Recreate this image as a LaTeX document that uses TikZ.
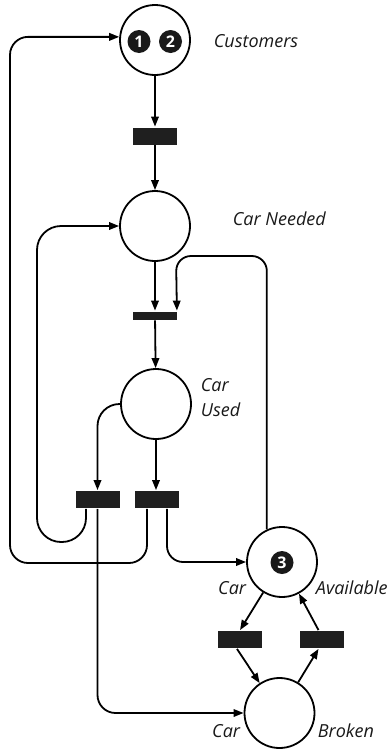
\documentclass[tikz,border=0pt]{standalone}
\usepackage{fontspec}
\setmainfont{Open Sans}
\usetikzlibrary{arrows.meta}
\begin{document}
\begin{tikzpicture}[x=1pt,y=-1pt,
  line width=1.8pt,
  >={Triangle[length=10pt,width=7.5pt]},
  place/.style={circle, draw, minimum size=70pt, inner sep=0pt, line width=1.8pt},
  trans/.style={fill=black!88, minimum width=44pt, minimum height=17pt, inner sep=0pt},
  token/.style={circle, fill=black!90, minimum size=23pt, inner sep=0pt, text=white, font=\bfseries\fontsize{16}{16}\selectfont},
  lbl/.style={font=\itshape\fontsize{18}{20}\selectfont, inner sep=0pt, text=black!90}]
\useasboundingbox (0,0) rectangle (390,750);
% places and transitions
\node[place] (cust) at (155,40) {};
\node[token] (tok1) at (139,41.5) {1};
\node[token] (tok2) at (170.5,41.5) {2};
\node[trans] (t1) at (155,136) {};
\node[place] (need) at (155,226) {};
\node[trans, minimum height=8pt] (t2) at (155,315.5) {};
\node[place] (used) at (156,404) {};
\node[trans] (t3) at (97.5,499.5) {};
\node[trans] (t4) at (156.5,499.5) {};
\node[place] (avail) at (282,562) {};
\node[token] (tok3) at (282,562.5) {3};
\node[trans] (t5) at (240,639.5) {};
\node[trans] (t6) at (321.5,639.5) {};
\node[place] (broken) at (279.5,713) {};
% labels
\node[lbl, anchor=west] (lcust) at (213,41) {Customers};
\node[lbl, anchor=west] (lneed) at (232,219) {Car Needed};
\node[lbl, anchor=west] (lused1) at (200,385) {Car};
\node[lbl, anchor=west] (lused2) at (200,410) {Used};
\node[lbl, anchor=east] (lavail1) at (247,588) {Car};
\node[lbl, anchor=west] (lavail2) at (315,588) {Available};
\node[lbl, anchor=east] (lbroken1) at (241,731) {Car};
\node[lbl, anchor=west] (lbroken2) at (317,731) {Broken};
% arcs
\draw[->] (cust) -- (t1);
\draw[->] (t1) -- (need);
\draw[->] (need) -- (t2);
\draw[->, rounded corners=15pt] (avail.115) |- (176,256) -- ([xshift=-1pt]t2.north east);
\draw[->] (t2) -- (used);
\draw[->, rounded corners=22pt] (used.west) -| (t3.north);
\draw[->] (used.south) -- (used.south |- t4.north);
\draw[->, rounded corners=24pt] ([xshift=-11.5pt]t3.south) |- (37,542) |- (need.west);
\draw[->, rounded corners=18pt] ([xshift=-9.5pt]t4.south) |- (10,563) |- (cust.175);
\draw[->, rounded corners=16pt] ([xshift=10.5pt]t4.south) |- (avail.west);
\draw[->, rounded corners=18pt] (t3.south) |- (broken.west);
\draw[->] (avail) -- (t5.north);
\draw[->] ([xshift=-3pt]t5.south) -- (broken);
\draw[->] (broken) -- ([xshift=-3pt]t6.south);
\draw[->] ([xshift=-3pt]t6.north) -- (avail);
\end{tikzpicture}
\end{document}
